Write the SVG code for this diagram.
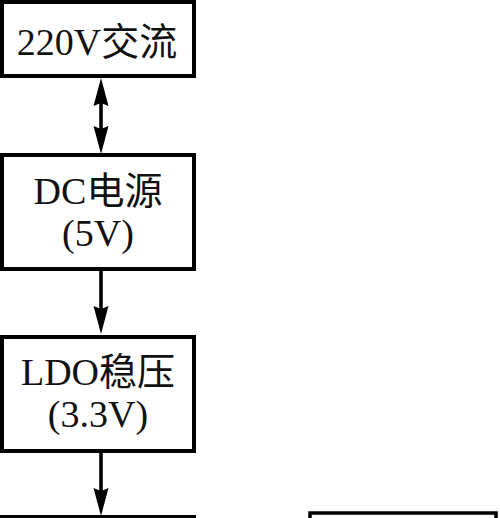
<svg xmlns="http://www.w3.org/2000/svg" width="500" height="518" viewBox="0 0 500 518">
<style>
.box{fill:#fff;stroke:#000;stroke-width:4}
.lbl{font-family:"Liberation Serif","Noto Sans CJK SC",serif;font-size:38px;fill:#111;text-anchor:middle}
.conn{stroke:#000;stroke-width:3.6;fill:none}
</style>
<defs>
<marker id="ah" markerUnits="userSpaceOnUse" markerWidth="28" markerHeight="16" viewBox="0 0 28 16" refX="10" refY="8" orient="auto-start-reverse">
<path d="M0,0.5 L28,8 L0,15.5 L3,8 Z" fill="#000"/>
</marker>
</defs>
<rect width="500" height="518" fill="#fff"/>
<g id="n-ac">
<rect class="box" x="2" y="2" width="192" height="74"/>
<text class="lbl" x="97" y="55">220V交流</text>
</g>
<g id="n-dc">
<rect class="box" x="2" y="155" width="192" height="114"/>
<text class="lbl" x="98" y="204">DC电源</text>
<text class="lbl" x="98" y="246">(5V)</text>
</g>
<g id="n-ldo">
<rect class="box" x="2" y="337" width="192" height="114"/>
<text class="lbl" x="98" y="385">LDO稳压</text>
<text class="lbl" x="98" y="427">(3.3V)</text>
</g>
<g id="n-bottom">
<rect class="box" x="2" y="517" width="192" height="100"/>
</g>
<g id="n-right">
<rect class="box" x="310" y="513" width="186" height="100" style="stroke-width:3.5"/>
</g>
<g id="connectors">
<line class="conn" x1="101" y1="96" x2="101" y2="136" marker-start="url(#ah)" marker-end="url(#ah)"/>
<line class="conn" x1="101" y1="271" x2="101" y2="316" marker-end="url(#ah)"/>
<line class="conn" x1="101" y1="453" x2="101" y2="498" marker-end="url(#ah)"/>
</g>
</svg>
